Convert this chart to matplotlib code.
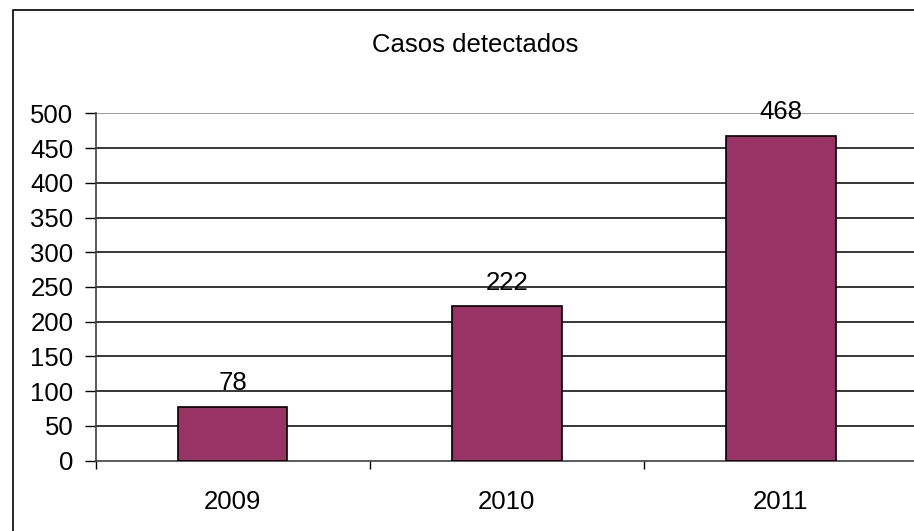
import matplotlib
matplotlib.use("Agg")
import matplotlib.pyplot as plt
from matplotlib.patches import Rectangle

categories = ["2009", "2010", "2011"]
values = [78, 222, 468]
yticks = [0, 50, 100, 150, 200, 250, 300, 350, 400, 450, 500]
title = "Casos detectados"

plt.rcParams['font.family'] = ['Liberation Sans', 'DejaVu Sans']
FS = 18.5
W, H = 914, 531
fig = plt.figure(figsize=(W / 100, H / 100), dpi=100)

# outer chart border
fig.patches.append(Rectangle((13 / W, -0.1), 1.2, (H - 10) / H + 0.1, transform=fig.transFigure,
                             fill=False, edgecolor='black', linewidth=1.2, zorder=0))

left, right = 95.5 / W, 918 / W
bottom, top = (H - 460.7) / H, (H - 113.3) / H
ax = fig.add_axes([left, bottom, right - left, top - bottom])
ax.set_facecolor('none')

x = list(range(len(categories)))
ax.bar(x, values, width=0.4, color='#993366', edgecolor='black', linewidth=1.2, zorder=3)
for xi, v in zip(x, values):
    ax.annotate(str(v), (xi, v), xytext=(0, 17), textcoords='offset points',
                ha='center', va='center', fontsize=FS, color='black', zorder=4)

ax.set_xlim(-0.5, len(categories) - 0.5)
ax.set_ylim(0, 500)
ax.set_yticks(yticks)
ax.set_yticklabels([str(t) for t in yticks], fontsize=FS)
for t in yticks[1:]:
    ax.axhline(t, color='#808080' if t == 500 else 'black', linewidth=1.1, zorder=1)

ax.set_xticks([i - 0.5 for i in range(len(categories) + 1)])
ax.set_xticklabels([])
ax.set_xticks(x, minor=True)
ax.set_xticklabels(categories, minor=True, fontsize=FS)
ax.tick_params(axis='x', which='minor', length=0, pad=21)
ax.tick_params(axis='x', which='major', length=6, width=1, direction='out')
ax.tick_params(axis='y', length=8, width=1, direction='out', pad=8)

for s in ['top', 'right']:
    ax.spines[s].set_visible(False)
ax.spines['left'].set_color('#404040')
ax.spines['bottom'].set_color('#404040')
ax.spines['left'].set_linewidth(1.2)
ax.spines['bottom'].set_linewidth(1.2)

fig.text(475 / W, (H - 45) / H, title, ha='center', va='center', fontsize=FS)

fig.savefig("out.png", dpi=100)
